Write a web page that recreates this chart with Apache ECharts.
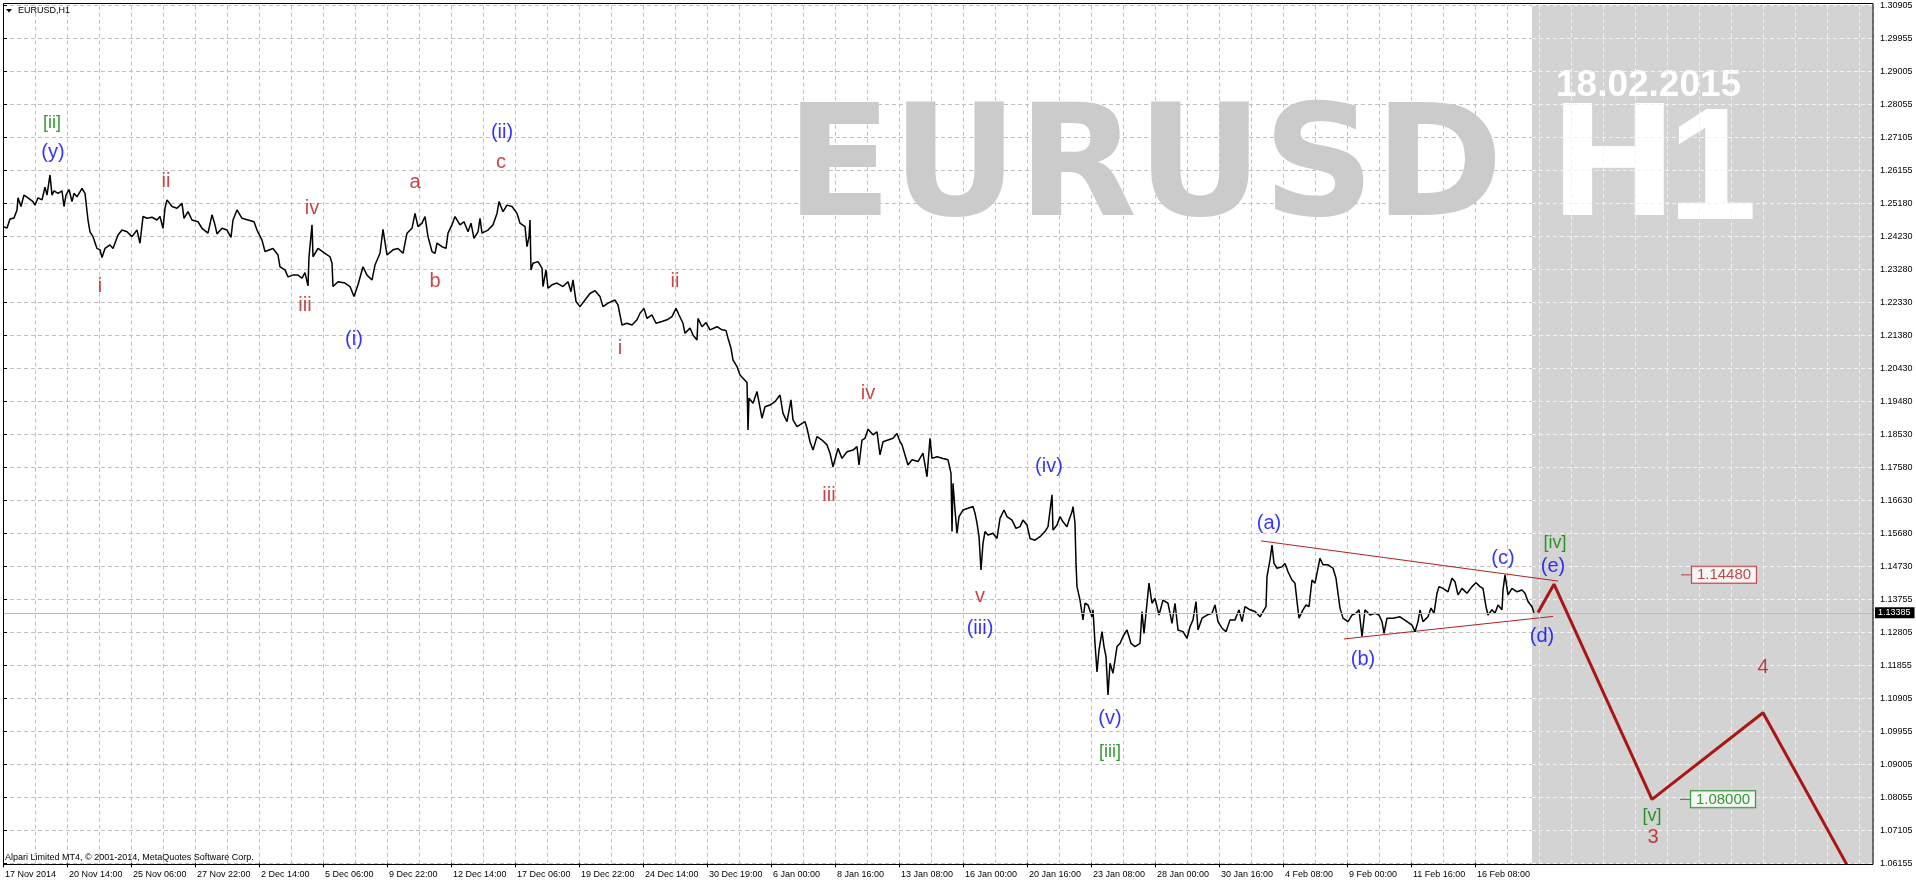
<!DOCTYPE html>
<html><head><meta charset="utf-8">
<script src="https://cdn.jsdelivr.net/npm/echarts@6/dist/echarts.min.js"></script>
<style>html,body{margin:0;padding:0;background:#fff}#c{width:1916px;height:884px}</style>
</head><body><div id="c"></div><script>
// ---- data (hour-bar index from 17 Nov 2014 00:00, close price) ----
const bars = [0,4,7,11,14,15,18,21,25,30,32,35,39,42,44,47,49,51,55,59,61,63,66,69,71,74,79,82,84,85,87,90,94,97,99,102,107,110,115,119,124,129,134,137,140,144,149,154,157,160,162,164,169,174,179,181,185,189,195,199,205,209,212,214,219,224,228,230,234,239,245,251,254,259,262,270,275,277,282,285,290,295,299,302,305,306,309,310,315,322,327,329,330,335,342,347,351,355,360,364,369,372,377,380,384,390,395,400,404,409,412,415,
419,422,425,429,432,434,439,443,445,449,452,457,461,465,468,471,475,477,479,485,490,494,496,500,504,509,514,517,522,524,526,527,528,530,535,539,540,543,545,549,554,560,565,568,570,573,577,582,587,592,597,600,605,612,615,619,624,629,634,637,641,644,649,653,659,664,669,673,676,680,682,687,690,694,695,699,703,707,714,719,723,725,728,730,734,737,744,745,746,750,754,759,762,767,772,777,780,784,788,790,794,802,804,
807,810,814,819,824,827,830,835,839,844,850,854,856,859,862,865,870,874,877,880,885,890,894,897,899,902,905,909,915,920,924,927,929,934,940,945,948,949,950,952,954,956,960,965,970,972,974,976,978,980,982,985,990,994,997,1001,1004,1009,1013,1017,1020,1024,1027,1032,1037,1042,1045,1049,1050,1054,1057,1060,1064,1066,1069,1070,1072,1073,1074,1077,1080,1082,1085,1089,1090,1092,1094,1096,1099,1101,1103,1105,1107,1110,1114,1117,1120,1124,1128,1132,1137,1139,1141,1144,1146,1149,1152,1156,1160,1165,1169,1172,1175,
1177,1180,1184,1187,1190,1193,1195,1199,1204,1209,1212,1215,1219,1223,1227,1232,1236,1239,1242,1247,1252,1257,1261,1263,1264,1267,1269,1271,1274,1279,1282,1285,1289,1292,1294,1296,1300,1303,1306,1309,1312,1314,1317,1320,1325,1330,1333,1335,1337,1340,1345,1349,1353,1356,1359,1362,1367,1372,1376,1379,1381,1384,1390,1397,1404,1409,1412,1415,1417,1420,1425,1428,1431,1434,1436,1440,1445,1449,1452,1455,1459,1464,1469,1473,1477,1480,1483,1485,1489,1492,1495,1499,1500,1502,1505,1509,1514,1519,1522,1525,1529,1531];
const closes = [1.2453,1.2449,1.2475,1.2478,1.2501,1.2536,1.2511,1.2544,1.2536,1.2525,1.2515,1.2536,1.2530,1.2567,1.2544,1.2602,1.2544,1.2556,1.2549,1.2556,1.2511,1.2544,1.2560,1.2525,1.2549,1.2539,1.2563,1.2549,1.2544,1.2472,1.2438,1.2424,1.2390,1.2386,1.2364,1.2390,1.2400,1.2390,1.2429,1.2443,1.2438,1.2424,1.2443,1.2405,1.2482,1.2477,1.2480,1.2472,1.2482,1.2448,1.2506,1.2530,1.2511,1.2506,1.2520,1.2477,1.2496,1.2472,1.2467,1.2448,1.2434,1.2487,1.2458,1.2432,1.2448,1.2443,1.2422,1.2472,1.2501,1.2477,1.2472,1.2467,1.2443,1.2414,1.2381,1.2390,1.2371,1.2337,1.2328,1.2308,1.2313,1.2313,1.2304,1.2320,1.2282,1.2366,1.2458,1.2366,1.2390,1.2376,1.2366,1.2347,1.2280,1.2294,1.2290,1.2280,1.2251,1.2285,1.2337,1.2313,1.2299,1.2342,1.2376,1.2445,1.2371,1.2386,1.2390,1.2376,1.2434,1.2448,1.2491,1.2453,
1.2463,1.2482,1.2424,1.2381,1.2376,1.2405,1.2395,1.2390,1.2434,1.2458,1.2482,1.2458,1.2467,1.2438,1.2463,1.2419,1.2438,1.2477,1.2434,1.2443,1.2458,1.2491,1.2525,1.2496,1.2515,1.2511,1.2491,1.2463,1.2453,1.2395,1.2424,1.2472,1.2328,1.2347,1.2352,1.2333,1.2280,1.2328,1.2275,1.2285,1.2290,1.2280,1.2294,1.2265,1.2299,1.2237,1.2222,1.2241,1.2260,1.2268,1.2251,1.2222,1.2232,1.2241,1.2227,1.2169,1.2174,1.2169,1.2184,1.2203,1.2217,1.2188,1.2198,1.2174,1.2179,1.2184,1.2193,1.2217,1.2198,1.2174,1.2145,1.2160,1.2140,1.2126,1.2188,1.2164,1.2176,1.2155,1.2164,1.2155,1.2153,1.2131,1.2102,1.2068,1.2049,1.2025,1.2003,1.1866,1.1958,1.1943,1.1977,1.1900,1.1933,1.1938,1.1948,1.1967,1.1914,1.1890,1.1953,1.1895,1.1876,1.1890,1.1871,
1.1832,1.1808,1.1847,1.1837,1.1823,1.1799,1.1760,1.1813,1.1784,1.1803,1.1808,1.1818,1.1765,1.1837,1.1842,1.1868,1.1852,1.1861,1.1794,1.1832,1.1837,1.1842,1.1856,1.1832,1.1823,1.1794,1.1765,1.1780,1.1775,1.1799,1.1731,1.1842,1.1784,1.1789,1.1784,1.1780,1.1741,1.1573,1.1712,1.1635,1.1568,1.1616,1.1635,1.1640,1.1645,1.1626,1.1597,1.1558,1.1462,1.1539,1.1573,1.1563,1.1568,1.1553,1.1611,1.1635,1.1616,1.1606,1.1582,1.1587,1.1606,1.1592,1.1553,1.1548,1.1558,1.1573,1.1587,1.1679,1.1577,1.1592,1.1616,1.1601,1.1587,1.1606,1.1630,1.1645,1.1597,1.1481,1.1414,1.1375,1.1318,1.1366,1.1361,1.1327,1.1347,1.1250,1.1168,1.1231,1.1284,1.1241,1.1212,1.1101,1.1193,1.1164,1.1241,1.1250,1.1270,1.1289,1.1250,1.1241,1.1250,1.1342,1.1279,1.1366,1.1424,1.1366,1.1380,1.1332,1.1375,1.1366,1.1308,1.1366,1.1289,
1.1294,1.1284,1.1265,1.1298,1.1318,1.1371,1.1289,1.1323,1.1332,1.1337,1.1361,1.1313,1.1294,1.1284,1.1318,1.1318,1.1347,1.1313,1.1356,1.1347,1.1342,1.1327,1.1347,1.1356,1.1443,1.1491,1.1534,1.1481,1.1467,1.1471,1.1481,1.1457,1.1433,1.1424,1.1371,1.1323,1.1347,1.1361,1.1356,1.1433,1.1424,1.1453,1.1496,1.1477,1.1477,1.1467,1.1438,1.1443,1.1352,1.1323,1.1313,1.1332,1.1337,1.1347,1.1270,1.1347,1.1332,1.1337,1.1332,1.1313,1.1279,1.1323,1.1323,1.1327,1.1313,1.1303,1.1284,1.1313,1.1347,1.1313,1.1327,1.1352,1.1337,1.1395,1.1414,1.1409,1.1399,1.1438,1.1428,1.1390,1.1409,1.1395,1.1414,1.1425,1.1414,1.1409,1.1356,1.1332,1.1347,1.1337,1.1361,1.1347,1.1404,1.1448,1.1390,1.1409,1.1399,1.1404,1.1395,1.1371,1.1356,1.13385];

const xTickLabels = ['17 Nov 2014','20 Nov 14:00','25 Nov 06:00','27 Nov 22:00','2 Dec 14:00','5 Dec 06:00','9 Dec 22:00','12 Dec 14:00','17 Dec 06:00','19 Dec 22:00','24 Dec 14:00','30 Dec 19:00','6 Jan 00:00','8 Jan 16:00','13 Jan 08:00','16 Jan 00:00','20 Jan 16:00','23 Jan 08:00','28 Jan 00:00','30 Jan 16:00','4 Feb 08:00','9 Feb 00:00','11 Feb 16:00','16 Feb 08:00'];
const yTickLabels = ['1.06155','1.07105','1.08055','1.09005','1.09955','1.10905','1.11855','1.12805','1.13755','1.14730','1.15680','1.16630','1.17580','1.18530','1.19480','1.20430','1.21380','1.22330','1.23280','1.24230','1.25180','1.26155','1.27105','1.28055','1.29005','1.29955','1.30905'];

const bidPrice = 1.13385;
const futureStartBar = 1529;

const triUpperBars = [1258, 1555], triUpperPrices = [1.1546, 1.1430];
const triLowerBars = [1341, 1550], triLowerPrices = [1.1263, 1.1328];
const projBars = [1535, 1551, 1649, 1760, 1844];
const projPrices = [1.1339, 1.1421, 1.0800, 1.1050, 1.0611];

const redWaveText = ['ii','iv','i','iii','a','b','c','i','ii','iii','iv','v','3','4'];
const redWaveBar = [163,309,97,302,412,432,498,617,672,826,865,977,1650,1760];
const redWavePrice = [1.2583,1.2506,1.2280,1.2224,1.2580,1.2294,1.2638,1.2100,1.2294,1.1676,1.1970,1.1385,1.0689,1.1180];
const blueWaveText = ['(y)','(i)','(ii)','(iii)','(iv)','(v)','(a)','(b)','(c)','(d)','(e)'];
const blueWaveBar = [50,351,499,977,1046,1107,1266,1360,1500,1539,1550];
const blueWavePrice = [1.2666,1.2127,1.2726,1.1294,1.1762,1.1033,1.1597,1.1204,1.1496,1.1269,1.1472];
const greenWaveText = ['[ii]','[iii]','[iv]','[v]'];
const greenWaveBar = [49,1107,1552,1649];
const greenWavePrice = [1.2751,1.0938,1.1539,1.0752];

const targetBars = [1721, 1720];
const targetPrices = [1.1448, 1.0800];

// ---- chart ----
const FONT = '"Liberation Sans", Arial, sans-serif';
const BARS_PER_LABEL = 64, BARS_PER_GRID = 32, X_MAX = 1870;
const yMin = parseFloat(yTickLabels[0]), yMax = parseFloat(yTickLabels[yTickLabels.length - 1]);
const RED = '#b8181a', BLUE = '#0000ff', GREEN = '#008000';

const zip = (a, b, c) => a.map((v, i) => c ? [v, b[i], c[i]] : [v, b[i]]);

const futureGrid = [];
for (let b = Math.ceil(futureStartBar / BARS_PER_GRID) * BARS_PER_GRID; b < X_MAX; b += BARS_PER_GRID) futureGrid.push({ xAxis: b });
for (let k = 0; k < yTickLabels.length; k++) {
  const p = yMin + k * (yMax - yMin) / (yTickLabels.length - 1);
  futureGrid.push([{ coord: [futureStartBar, p] }, { coord: [X_MAX, p] }]);
}

function waveSeries(text, bar, price, color, size) {
  return {
    type: 'scatter', silent: true, z: 6, symbolSize: 0,
    data: zip(bar, price, text),
    label: { show: true, position: 'inside', formatter: p => p.value[2], color: color, fontSize: size, fontFamily: FONT },
    emphasis: { disabled: true }
  };
}

const xLabelBars = xTickLabels.map((_, i) => i * BARS_PER_LABEL);

const chart = echarts.init(document.getElementById('c'), null, { renderer: 'canvas', width: 1916, height: 884 });
chart.setOption({
  animation: false,
  backgroundColor: '#ffffff',
  grid: { left: 3, right: 43, top: 5.7, bottom: 20.7, containLabel: false },
  xAxis: [
    { type: 'value', min: 0, max: X_MAX, interval: BARS_PER_LABEL, position: 'bottom',
      axisLine: { show: false }, splitLine: { show: false },
      axisTick: { show: true, length: 4, lineStyle: { color: '#000' }, customValues: xLabelBars },
      axisLabel: { show: true, customValues: xLabelBars,
        formatter: v => { const i = Math.round(v / BARS_PER_LABEL); return (i * BARS_PER_LABEL === v && i < xTickLabels.length) ? xTickLabels[i] : ''; },
        align: 'left', margin: 7, padding: [0, 0, 0, 2], fontSize: 9, fontFamily: FONT, color: '#000',
        hideOverlap: false } },
    { type: 'value', min: 0, max: X_MAX, interval: BARS_PER_GRID, position: 'bottom',
      axisLine: { show: false }, axisTick: { show: false }, axisLabel: { show: false },
      splitLine: { show: true, lineStyle: { color: '#c0c0c0', type: [4, 3], width: 1 } } }
  ],
  yAxis: [
    { type: 'value', show: false, min: yMin, max: yMax },
    { type: 'category', data: yTickLabels, boundaryGap: false, position: 'right',
      axisLine: { show: false },
      axisTick: { show: true, length: 4, interval: 0, lineStyle: { color: '#000' } },
      axisLabel: { interval: 0, margin: 7, fontSize: 9, fontFamily: FONT, color: '#000' },
      splitLine: { show: true, interval: 0, lineStyle: { color: '#c0c0c0', type: [4, 3], width: 1 } } }
  ],
  series: [
    { name: 'future', type: 'line', data: [], z: 1, silent: true,
      markArea: { silent: true, itemStyle: { color: '#d3d3d3' }, data: [[{ xAxis: futureStartBar }, { xAxis: X_MAX }]] },
      markLine: { silent: true, precision: 8, symbol: 'none', label: { show: false }, lineStyle: { color: '#f2f2f2', type: [4, 3], width: 1 }, data: futureGrid } },
    { name: 'bid', type: 'line', data: [], z: 2, silent: true,
      markLine: { silent: true, precision: 8, symbol: 'none', lineStyle: { color: '#bdbdbd', type: 'solid', width: 1 },
        label: { show: true, position: 'end', distance: 2, formatter: () => bidPrice.toFixed(5), backgroundColor: '#000', color: '#fff',
          fontSize: 9, fontFamily: FONT, padding: [1, 4, 1, 3], lineHeight: 9 },
        data: [{ yAxis: bidPrice }] } },
    { name: 'triUpper', type: 'line', z: 3, silent: true, showSymbol: false, data: zip(triUpperBars, triUpperPrices),
      lineStyle: { color: '#b42020', width: 1 } },
    { name: 'triLower', type: 'line', z: 3, silent: true, showSymbol: false, data: zip(triLowerBars, triLowerPrices),
      lineStyle: { color: '#b42020', width: 1 } },
    { name: 'EURUSD', type: 'line', z: 4, silent: true, showSymbol: false, data: zip(bars, closes),
      lineStyle: { color: '#000', width: 1.5 } },
    { name: 'projection', type: 'line', z: 5, silent: true, showSymbol: false, data: zip(projBars, projPrices),
      lineStyle: { color: '#aa1616', width: 3 } },
    waveSeries(redWaveText, redWaveBar, redWavePrice, RED, 20),
    waveSeries(blueWaveText, blueWaveBar, blueWavePrice, BLUE, 20),
    waveSeries(greenWaveText, greenWaveBar, greenWavePrice, GREEN, 18),
    { name: 'targets', type: 'scatter', z: 6, silent: true,
      symbol: 'rect', symbolSize: [10, 1], symbolOffset: [-38, 0],
      data: zip(targetBars, targetPrices).map((d, i) => {
        const c = i === 0 ? RED : GREEN;
        return { value: d, itemStyle: { color: c }, label: { color: c, borderColor: c } };
      }),
      label: { show: true, position: 'inside', offset: [38, 0], formatter: p => p.value[1].toFixed(5), fontSize: 15, fontFamily: FONT,
        backgroundColor: '#fff', borderWidth: 1, padding: [1, 5, 0, 5], lineHeight: 15 } }
  ],
  graphic: [
    { type: 'text', z: 3, silent: true, style: { text: 'EURUSD', x: 786, y: 175, fill: '#cbcbcb', font: 'bold 155px "DejaVu Sans", sans-serif', textAlign: 'left', verticalAlign: 'middle' } },
    { type: 'text', z: 3, silent: true, style: { text: 'H', x: 1549, y: 175, fill: '#ffffff', font: 'bold 154px "DejaVu Sans", sans-serif', textAlign: 'left', verticalAlign: 'middle' } },
    { type: 'text', z: 3, silent: true, style: { text: '1', x: 1668, y: 175, fill: '#ffffff', font: 'bold 160px "Liberation Sans", Arial, sans-serif', textAlign: 'left', verticalAlign: 'middle' } },
    { type: 'text', z: 3, silent: true, style: { text: '18.02.2015', x: 1556, y: 86, fill: '#ffffff', font: 'bold 37px "Liberation Sans", Arial, sans-serif', textAlign: 'left', verticalAlign: 'middle' } },
    { type: 'polygon', z: 10, silent: true, shape: { points: [[6, 9], [12, 9], [9, 12.5]] }, style: { fill: '#000' } },
    { type: 'text', z: 10, silent: true, style: { text: 'EURUSD,H1', x: 18, y: 11, fill: '#000', font: '9px "Liberation Sans", Arial, sans-serif', textAlign: 'left', verticalAlign: 'middle' } },
    { type: 'text', z: 10, silent: true, style: { text: 'Alpari Limited MT4, \u00a9 2001-2014, MetaQuotes Software Corp.', x: 5, y: 858, fill: '#000', font: '9px "Liberation Sans", Arial, sans-serif', textAlign: 'left', verticalAlign: 'middle' } },
    { type: 'rect', z: 20, silent: true, shape: { x: 3.5, y: 3.5, width: 1869.5, height: 861 }, style: { fill: 'none', stroke: '#000', lineWidth: 1 } }
  ]
});
</script></body></html>
